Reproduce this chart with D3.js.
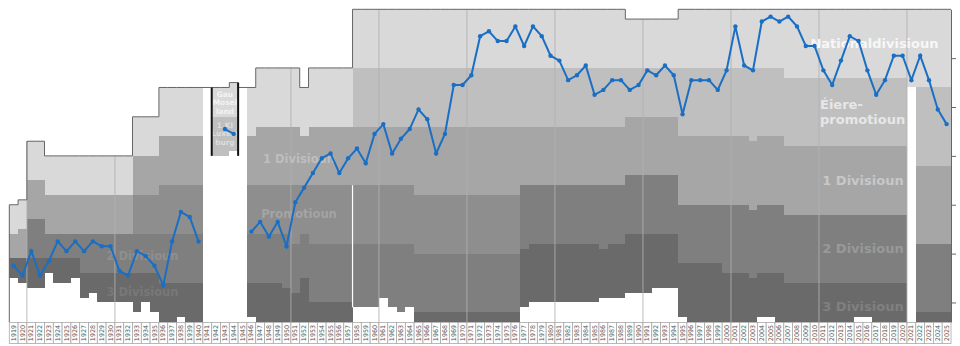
<!DOCTYPE html>
<html>
<head>
<meta charset="utf-8">
<style>
  body { margin: 0; background: #fff; }
  svg { display: block; font-family: "DejaVu Sans", sans-serif; }
  .league { font-weight: bold; }
</style>
</head>
<body>
<svg id="chart" width="960" height="346"></svg>
<script src="https://cdn.jsdelivr.net/npm/d3@7/dist/d3.min.js"></script>
<script>
// league colours: Nationaldivisioun, Eiere-promotioun, 1 Divisioun, Promotioun, 2 Divisioun, 3 Divisioun
const tierColors = ["#d9d9d9", "#bfbfbf", "#a6a6a6", "#8e8e8e", "#7f7f7f", "#6a6a6a"]

const seasons = d3.range(1919, 2026)

// [first season, last season, teams above the top league, teams per league, league colour id]
const pyramid = [
    [1919, 1919, 40, [6, 5, 4], [0, 2, 5]],
    [1920, 1920, 39, [6, 6, 5], [0, 2, 5]],
    [1921, 1922, 27, [8, 8, 8, 6], [0, 2, 4, 5]],
    [1923, 1923, 30, [8, 8, 5, 3], [0, 2, 4, 5]],
    [1924, 1925, 30, [8, 8, 5, 5], [0, 2, 4, 5]],
    [1926, 1926, 30, [8, 8, 5, 4], [0, 2, 4, 5]],
    [1927, 1927, 30, [8, 8, 8, 5], [0, 2, 4, 5]],
    [1928, 1928, 30, [8, 8, 8, 4], [0, 2, 4, 5]],
    [1929, 1932, 30, [8, 8, 8, 6], [0, 2, 4, 5]],
    [1933, 1933, 22, [8, 8, 8, 8, 8], [0, 2, 3, 4, 5]],
    [1934, 1934, 22, [8, 8, 8, 8, 6], [0, 2, 3, 4, 5]],
    [1935, 1935, 22, [8, 8, 8, 8, 8], [0, 2, 3, 4, 5]],
    [1936, 1937, 16, [10, 10, 10, 10, 8], [0, 2, 3, 4, 5]],
    [1938, 1938, 16, [10, 10, 10, 10, 7], [0, 2, 3, 4, 5]],
    [1939, 1940, 16, [10, 10, 10, 10, 8], [0, 2, 3, 4, 5]],
    [1942, 1943, 16, [6, 8], [0, 1]],
    [1944, 1944, 15, [7, 7], [0, 1]],
    [1946, 1946, 16, [10, 10, 10, 10, 7], [0, 2, 3, 4, 5]],
    [1947, 1949, 12, [12, 12, 10, 10, 8], [0, 2, 3, 4, 5]],
    [1950, 1950, 12, [12, 12, 10, 11, 7], [0, 2, 3, 4, 5]],
    [1951, 1951, 12, [12, 12, 12, 10, 6], [0, 2, 3, 4, 5]],
    [1952, 1952, 16, [10, 10, 10, 9, 9], [0, 2, 3, 4, 5]],
    [1953, 1957, 12, [12, 12, 12, 12, 4], [0, 2, 3, 4, 5]],
    [1958, 1960, 0, [12, 12, 12, 12, 13], [0, 1, 2, 3, 4]],
    [1961, 1961, 0, [12, 12, 12, 12, 11], [0, 1, 2, 3, 4]],
    [1962, 1962, 0, [12, 12, 12, 12, 13], [0, 1, 2, 3, 4]],
    [1963, 1963, 0, [12, 12, 12, 12, 14], [0, 1, 2, 3, 4]],
    [1964, 1964, 0, [12, 12, 12, 12, 13], [0, 1, 2, 3, 4]],
    [1965, 1976, 0, [12, 12, 14, 12, 12, 2], [0, 1, 2, 3, 4, 5]],
    [1977, 1977, 0, [12, 12, 12, 13, 12], [0, 1, 2, 4, 5]],
    [1978, 1985, 0, [12, 12, 12, 12, 12], [0, 1, 2, 4, 5]],
    [1986, 1986, 0, [12, 12, 12, 13, 10], [0, 1, 2, 4, 5]],
    [1987, 1988, 0, [12, 12, 12, 12, 11], [0, 1, 2, 4, 5]],
    [1989, 1991, 2, [10, 10, 12, 12, 12], [0, 1, 2, 4, 5]],
    [1992, 1994, 2, [10, 10, 12, 12, 11], [0, 1, 2, 4, 5]],
    [1995, 1995, 0, [12, 14, 14, 12, 11], [0, 1, 2, 4, 5]],
    [1996, 1999, 0, [12, 14, 14, 12, 12], [0, 1, 2, 4, 5]],
    [2000, 2002, 0, [12, 14, 14, 14, 10], [0, 1, 2, 4, 5]],
    [2003, 2003, 0, [12, 15, 14, 14, 9], [0, 1, 2, 4, 5]],
    [2004, 2005, 0, [12, 14, 14, 14, 9], [0, 1, 2, 4, 5]],
    [2006, 2006, 0, [12, 14, 14, 14, 10], [0, 1, 2, 4, 5]],
    [2007, 2014, 0, [14, 14, 14, 14, 8], [0, 1, 2, 4, 5]],
    [2015, 2016, 0, [14, 14, 14, 14, 7], [0, 1, 2, 4, 5]],
    [2017, 2020, 0, [14, 14, 14, 14, 8], [0, 1, 2, 4, 5]],
    [2021, 2021, 0, [16], [0]],
    [2022, 2025, 0, [16, 16, 16, 14, 2], [0, 1, 2, 4, 5]]
]

// seasons with no leagues where the top outline carries on
const outlineOnly = [[1941, 16], [1945, 16]]

// wartime block (Gauliga Moselland)
const warSeasons = [1942, 1944]
const warLeagues = [["Gau", "Mosel", "land"], ["1.Kl", "Luxem", "burg"]]

// club rank in the whole pyramid, one per season (null = no season)
const clubRank = [
    53, 55, 50, 55, 52, 48, 50, 48, 50, 48,   // 1919-1928
    49, 49, 54, 55, 50, 51, 53, 57, 48, 42,   // 1929-1938
    43, 48, null, null, 25, 26, null, 46, 44, 47, // 1939-1948
    44, 49, 40, 37, 34, 31, 30, 34, 31, 29,   // 1949-1958
    32, 26, 24, 30, 27, 25, 21, 23, 30, 26,   // 1959-1968
    16, 16, 14, 6, 5, 7, 7, 4, 8, 4,          // 1969-1978
    6, 10, 11, 15, 14, 12, 18, 17, 15, 15,    // 1979-1988
    17, 16, 13, 14, 12, 14, 22, 15, 15, 15,   // 1989-1998
    17, 13, 4, 12, 13, 3, 2, 3, 2, 4,         // 1999-2008
    8, 8, 13, 16, 11, 6, 7, 13, 18, 15,       // 2009-2018
    10, 10, 15, 10, 15, 21, 24                // 2019-2025
]

const decades = [1920, 1930, 1950, 1960, 1970, 1980, 1990, 2000, 2010, 2020]
const rightTicks = [10, 20, 30, 40, 50, 60]
const bottomRank = 64

const leagueLabels = ["2 Divisioun", "3 Divisioun", "1 Divisioun", "Promotioun",
    "Nationaldivisioun", "Éiere-", "promotioun", "1 Divisioun", "2 Divisioun", "3 Divisioun"]

// ---------------------------------------------------------------
let svg = d3.select("#chart")

let x = d3.scaleBand().domain(seasons).range([9.3, 951]).padding(0)
let y = d3.scaleLinear().domain([0, bottomRank]).range([9.3, 322])
let bw = x.bandwidth()

let topRank = {}
for (let p of pyramid) {
    for (let s = p[0]; s <= p[1]; s++) topRank[s] = p[2]
}
for (let o of outlineOnly) topRank[o[0]] = o[1]

// league bands
let bands = []
for (let p of pyramid) {
    let start = p[2]
    p[3].forEach((n, i) => {
        bands.push({ from: p[0], to: p[1], y0: start, y1: start + n, tier: p[4][i] })
        start += n
    })
}
svg.append("g").selectAll("rect").data(bands)
    .enter().append("rect")
    .attr("x", d => x(d.from))
    .attr("width", d => x(d.to) + bw - x(d.from))
    .attr("y", d => y(d.y0))
    .attr("height", d => y(d.y1) - y(d.y0))
    .attr("fill", d => tierColors[d.tier])
    .attr("shape-rendering", "crispEdges")

// thin white break 1957/58 in the lower leagues
svg.append("line")
    .attr("x1", x(1958)).attr("x2", x(1958))
    .attr("y1", y(36)).attr("y2", y(61))
    .attr("stroke", "white").attr("stroke-width", 1.2)

// decade grid lines
svg.append("g").selectAll("line").data(decades)
    .enter().append("line")
    .attr("x1", d => x(d) + bw).attr("x2", d => x(d) + bw)
    .attr("y1", d => y(Math.min(topRank[d], topRank[d + 1])))
    .attr("y2", y(bottomRank))
    .attr("stroke", "#b0b0b0").attr("stroke-opacity", 0.85)

// league names
let lift = (c, k) => {
    let r = d3.rgb(c)
    return d3.rgb(Math.min(250, r.r + k), Math.min(250, r.g + k), Math.min(250, r.b + k))
}
let labelLayout = [
    [142.5, 256, 11.5, 4, "middle", 16], [142.5, 292, 11.5, 5, "middle", 14],
    [299, 158.5, 11.5, 2, "middle", 24], [299, 213.5, 11.5, 3, "middle", 22],
    [874.5, 43, 13, 0, "middle", 30], [820, 104, 13, 1, "start", 40],
    [820, 119.5, 13, 1, "start", 40], [863, 180, 13, 2, "middle", 34],
    [863, 248, 13, 4, "middle", 26], [863, 306, 13, 5, "middle", 22]
]
svg.append("g").selectAll("text").data(leagueLabels)
    .enter().append("text")
    .attr("class", "league")
    .attr("x", (d, i) => labelLayout[i][0])
    .attr("y", (d, i) => labelLayout[i][1])
    .attr("font-size", (d, i) => labelLayout[i][2])
    .attr("text-anchor", (d, i) => labelLayout[i][4])
    .attr("dominant-baseline", "central")
    .attr("fill", (d, i) => lift(tierColors[labelLayout[i][3]], labelLayout[i][5]))
    .text(d => d)

// wartime block labels
let warX = x(1943) + bw / 2
warLeagues.forEach((words, j) => {
    svg.append("g").selectAll("text").data(words)
        .enter().append("text")
        .attr("class", "league")
        .attr("x", warX)
        .attr("y", (d, i) => (j == 0 ? 94 : 125) + i * 8.6)
        .attr("font-size", 7.4)
        .attr("text-anchor", "middle")
        .attr("dominant-baseline", "central")
        .attr("fill", lift(tierColors[j], j == 0 ? 26 : 30))
        .text(d => d)
})

// top outline
let path = d3.path()
path.moveTo(x(seasons[0]), y(bottomRank))
for (let s of seasons) {
    if (topRank[s] === undefined) continue
    path.lineTo(x(s), y(topRank[s]))
    path.lineTo(x(s) + bw, y(topRank[s]))
}
svg.append("path")
    .attr("d", path.toString())
    .attr("fill", "none").attr("stroke", "#666").attr("stroke-width", 1)

// wartime frame
let warBottom = s => topRank[s] + d3.sum(pyramid.find(p => p[0] <= s && p[1] >= s)[3])
svg.append("line")
    .attr("x1", x(warSeasons[0])).attr("x2", x(warSeasons[0]))
    .attr("y1", y(topRank[warSeasons[0]])).attr("y2", y(warBottom(warSeasons[0])))
    .attr("stroke", "#111").attr("stroke-width", 2)
svg.append("line")
    .attr("x1", x(warSeasons[1]) + bw).attr("x2", x(warSeasons[1]) + bw)
    .attr("y1", y(topRank[warSeasons[1]])).attr("y2", y(warBottom(warSeasons[0])))
    .attr("stroke", "#111").attr("stroke-width", 2)

// right axis
svg.append("g")
    .attr("transform", `translate(${x(2025) + bw},0)`)
    .call(d3.axisRight(y).tickValues(rightTicks).tickSize(5).tickSizeOuter(0).tickFormat(""))
    .call(g => g.selectAll("path,line").attr("stroke", "#666"))

// season labels
let xl = svg.append("g").selectAll("g").data(seasons)
    .enter().append("g")
xl.append("rect")
    .attr("x", d => x(d)).attr("y", 322.5)
    .attr("width", bw).attr("height", 21)
    .attr("fill", "white").attr("stroke", "#a8a8a8").attr("stroke-width", 0.8)
xl.append("text")
    .attr("transform", d => `translate(${x(d) + bw / 2},333) rotate(-90)`)
    .attr("text-anchor", "middle")
    .attr("dominant-baseline", "central")
    .attr("font-size", 6.4)
    .attr("fill", "#555")
    .text(d => d)

// club line
let pts = seasons.map((s, i) => ({ season: s, rank: clubRank[i] }))
let line = d3.line()
    .defined(d => d.rank != null)
    .x(d => x(d.season) + bw / 2)
    .y(d => y(d.rank - 0.5))
svg.append("path")
    .attr("d", line(pts))
    .attr("fill", "none").attr("stroke", "#1a6fc4").attr("stroke-width", 2)
svg.append("g").selectAll("circle").data(pts.filter(d => d.rank != null))
    .enter().append("circle")
    .attr("cx", d => x(d.season) + bw / 2)
    .attr("cy", d => y(d.rank - 0.5))
    .attr("r", 2.2)
    .attr("fill", "#1a6fc4")
</script>
</body>
</html>
